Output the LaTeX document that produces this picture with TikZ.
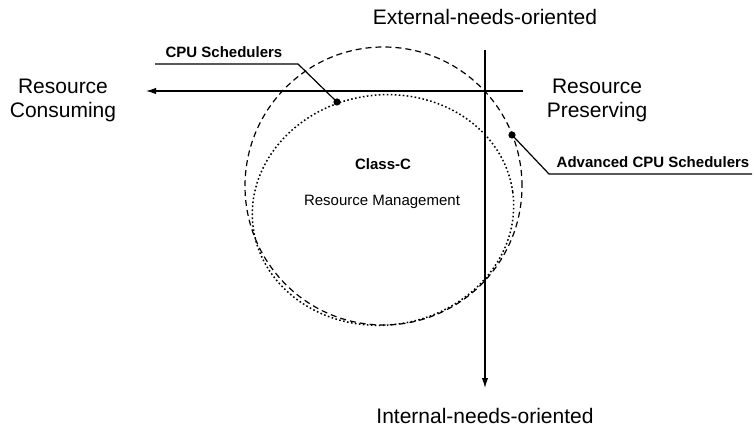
\documentclass[tikz,border=0pt]{standalone}
\usepackage{fontspec}
\setmainfont{Liberation Sans}
\usepackage{tikz}
\usetikzlibrary{arrows.meta}
\tikzset{
    axis-label/.style = {align=center, inner sep=0pt, font=\fontsize{10.5pt}{12pt}\selectfont},
    note-label/.style = {inner sep=0pt, font=\fontsize{7.5pt}{9pt}\selectfont\bfseries},
    plain-label/.style = {inner sep=0pt, font=\fontsize{7.5pt}{9pt}\selectfont},
    axis-line/.style = {line width=0.6pt, -{Latex[length=5pt,width=3.2pt]}},
    leader-line/.style = {line width=0.6pt},
    leader-dot/.style = {circle, fill=black, inner sep=0pt, minimum size=3.6pt},
    outer-ring/.style = {line width=0.6pt, dash pattern=on 3pt off 2pt},
    inner-ring/.style = {line width=0.75pt, dash pattern=on 0.8pt off 1.2pt},
}

\begin{document}
\begin{tikzpicture}[x=0.5pt, y=-0.5pt]
\useasboundingbox (0,0) rectangle (754,432);

\draw[outer-ring] (383.5,186) ellipse [x radius=69.25pt, y radius=69.5pt];
\draw[inner-ring, rotate around={8:(383,210)}] (383,210) ellipse [x radius=65.5pt, y radius=57.5pt];

\coordinate (h-start) at (523,91);
\coordinate (h-end) at (146,91);
\coordinate (v-start) at (485,50);
\coordinate (v-end) at (485,388);
\draw[axis-line] (h-start) -- (h-end);
\draw[axis-line] (v-start) -- (v-end);

\node[axis-label] (external) at (485,17) {External-needs-oriented};
\node[axis-label] (internal) at (485,416) {Internal-needs-oriented};
\node[axis-label] (consuming) at (63,100) {Resource\\Consuming};
\node[axis-label] (preserving) at (597,100) {Resource\\Preserving};

\node[note-label] (class-c) at (383,164) {Class-C};
\node[plain-label] (management) at (382,202) {Resource Management};

\node[leader-dot] (cpu-dot) at (337,102) {};
\coordinate (cpu-bend) at (298,64);
\coordinate (cpu-end) at (155,64);
\node[note-label, anchor=south] (cpu) at (224,58) {CPU Schedulers};
\draw[leader-line] (cpu-end) -- (cpu-bend) -- (cpu-dot.center);

\node[leader-dot] (adv-dot) at (512,135) {};
\coordinate (adv-bend) at (549,174);
\coordinate (adv-end) at (752,174);
\node[note-label, anchor=south] (adv) at (653,168) {Advanced CPU Schedulers};
\draw[leader-line] (adv-dot.center) -- (adv-bend) -- (adv-end);
\end{tikzpicture}
\end{document}
